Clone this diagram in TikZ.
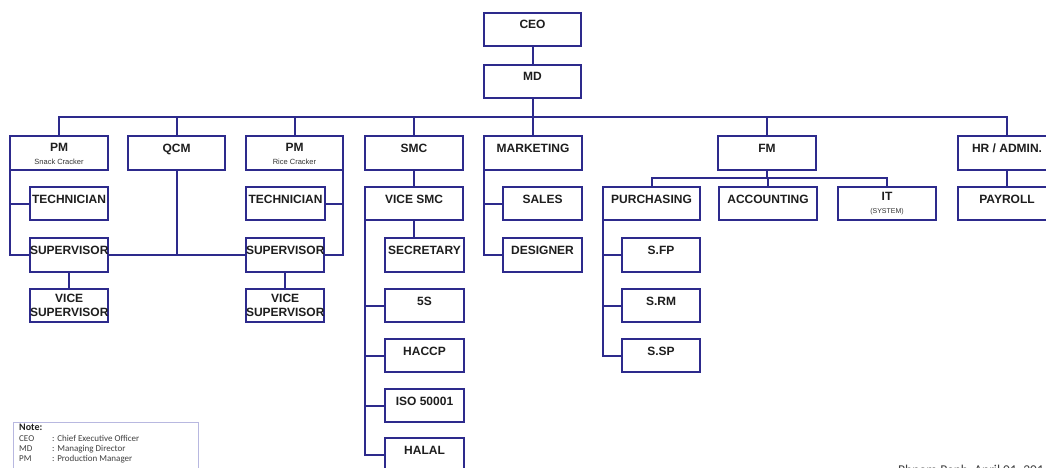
\documentclass[tikz,border=0pt]{standalone}
\usepackage{fontspec}
\setmainfont{Liberation Sans}
\newfontfamily\notefont{Carlito}
\definecolor{boxblue}{RGB}{45,42,140}
\definecolor{txt}{RGB}{30,30,30}
\begin{document}
\begin{tikzpicture}[x=1pt,y=-1pt,
  bx/.style={draw=boxblue, line width=2pt, inner sep=0pt, outer sep=0pt, anchor=north west,
    minimum height=33pt, font=\bfseries\fontsize{12}{14.5}\selectfont, text=txt, align=center},
  one/.style={text height=10pt, text depth=11pt},
  wd/.style={minimum width=#1},
  conn/.style={draw=boxblue, line width=2pt}]
\useasboundingbox (0,0) rectangle (1046,468);
\fill[white] (0,0) rectangle (1046,468);
\clip (0,0) rectangle (1046,468);

% top
\node[bx,one,wd=97] (ceo) at (484,13) {CEO};
\node[bx,one,wd=97] (md) at (484,65) {MD};
\coordinate (bus) at (0,117);
\coordinate (fmbar) at (0,178);

% row 1
\node[bx,wd=98,minimum height=34] (pms) at (10,136) {\strut PM\\[-1pt]{\fontsize{7.5}{8}\selectfont\mdseries\color{black!80} Snack Cracker}};
\node[bx,one,wd=97,minimum height=34] (qcm) at (128,136) {QCM};
\node[bx,wd=97,minimum height=34] (pmr) at (246,136) {\strut PM\\[-1pt]{\fontsize{7.5}{8}\selectfont\mdseries\color{black!80} Rice Cracker}};
\node[bx,one,wd=98,minimum height=34] (smc) at (365,136) {SMC};
\node[bx,one,wd=98,minimum height=34] (mkt) at (484,136) {MARKETING};
\node[bx,one,wd=98,minimum height=34] (fm) at (718,136) {FM};
\node[bx,one,wd=98,minimum height=34] (hr) at (958,136) {HR / ADMIN.};

% row 2
\node[bx,one,wd=78] (techl) at (30,187) {TECHNICIAN};
\node[bx,one,wd=79] (techr) at (246,187) {TECHNICIAN};
\node[bx,one,wd=98] (vsmc) at (365,187) {VICE SMC};
\node[bx,one,wd=79] (sales) at (503,187) {SALES};
\node[bx,one,wd=97] (purch) at (603,187) {PURCHASING};
\node[bx,one,wd=98] (acc) at (719,187) {ACCOUNTING};
\node[bx,wd=98] (it) at (838,187) {IT\\[-2pt]{\fontsize{7}{7}\selectfont\mdseries\color{black!80} (SYSTEM)}};
\node[bx,one,wd=98] (payroll) at (958,187) {PAYROLL};

% row 3
\node[bx,one,wd=78,minimum height=34] (supl) at (30,238) {SUPERVISOR};
\node[bx,one,wd=77,minimum height=34] (supr) at (246,238) {SUPERVISOR};
\node[bx,one,wd=79,minimum height=34] (secr) at (385,238) {SECRETARY};
\node[bx,one,wd=79,minimum height=34] (design) at (503,238) {DESIGNER};
\node[bx,one,wd=78,minimum height=34] (sfp) at (622,238) {S.FP};

% row 4
\node[bx,wd=78] (vsupl) at (30,289) {VICE\\SUPERVISOR};
\node[bx,wd=77] (vsupr) at (246,289) {VICE\\SUPERVISOR};
\node[bx,one,wd=79] (fives) at (385,289) {5S};
\node[bx,one,wd=78] (srm) at (622,289) {S.RM};

% rows 5-7
\node[bx,one,wd=79] (haccp) at (385,339) {HACCP};
\node[bx,one,wd=78] (ssp) at (622,339) {S.SP};
\node[bx,one,wd=79] (iso) at (385,389) {ISO 50001};
\node[bx,one,wd=79] (halal) at (385,438) {HALAL};

% connectors
\draw[conn] (ceo) -- (md);
\draw[conn] (md.south) -- (md.south |- bus);
\draw[conn] (pms.north) -- (pms.north |- bus) -- (hr.north |- bus) -- (hr.north);
\foreach \n in {qcm,pmr,smc,mkt,fm} \draw[conn] (\n.north) -- (\n.north |- bus);

\draw[conn] (pms.south west) -- (pms.south west |- supl.west) -- (supl.west);
\draw[conn] (pms.south west |- techl.west) -- (techl.west);
\draw[conn] (qcm.south) -- (qcm.south |- supl.east);
\draw[conn] (supl.east) -- (supr.west);
\draw[conn] (pmr.south east) -- (pmr.south east |- supr.east) -- (supr.east);
\draw[conn] (pmr.south east |- techr.east) -- (techr.east);
\draw[conn] (supl) -- (vsupl);
\draw[conn] (supr) -- (vsupr);

\draw[conn] (smc) -- (vsmc);
\draw[conn] (vsmc.south) -- (vsmc.south |- secr.north);
\draw[conn] (vsmc.south west) -- (vsmc.south west |- halal.west) -- (halal.west);
\foreach \n in {fives,haccp,iso} \draw[conn] (vsmc.south west |- \n.west) -- (\n.west);

\draw[conn] (mkt.south west) -- (mkt.south west |- design.west) -- (design.west);
\draw[conn] (mkt.south west |- sales.west) -- (sales.west);

\draw[conn] (fm.south) -- (fm.south |- fmbar);
\draw[conn] (purch.north) -- (purch.north |- fmbar) -- (it.north |- fmbar) -- (it.north);
\draw[conn] (acc.north) -- (acc.north |- fmbar);
\draw[conn] (purch.south west) -- (purch.south west |- ssp.west) -- (ssp.west);
\foreach \n in {sfp,srm} \draw[conn] (purch.south west |- \n.west) -- (\n.west);

\draw[conn] (hr) -- (payroll);

% note
\node[draw=gray!60!blue!40, line width=0.8pt, anchor=north west, minimum width=185, minimum height=60, inner sep=0pt] (note) at (13,422) {};
\node[anchor=north west, inner sep=0pt, align=left, text=black!75, font=\notefont\fontsize{9}{10}\selectfont] (notetxt) at (19,424)
  {{\bfseries\fontsize{10}{10}\selectfont\color{txt} Note:}\\[1pt]
   \makebox[33pt][l]{CEO}: Chief Executive Officer\\
   \makebox[33pt][l]{MD}: Managing Director\\
   \makebox[33pt][l]{PM}: Production Manager};

\node[anchor=base west, inner sep=0pt, text=black!75, font=\notefont\fontsize{13.5}{15}\selectfont] (place) at (898,474) {Phnom Penh, April 01, 201};
\end{tikzpicture}
\end{document}
